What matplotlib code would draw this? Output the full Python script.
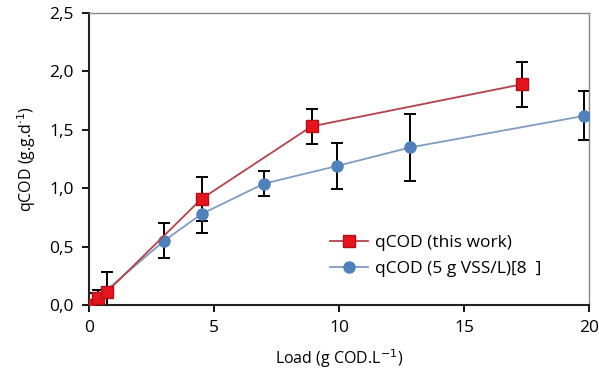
import matplotlib
matplotlib.use("Agg")
import matplotlib.pyplot as plt

plt.rcParams['font.family'] = ['Open Sans', 'DejaVu Sans']

# this work
x_red = [0, 0.35, 0.7, 4.5, 8.9, 17.3]
y_red = [0, 0.06, 0.11, 0.91, 1.53, 1.89]
e_red = [0, 0.07, 0.17, 0.19, 0.15, 0.19]

# 5 g VSS/L [8]
x_blue = [0, 3.0, 4.5, 7.0, 9.9, 12.85, 19.8]
y_blue = [0, 0.55, 0.78, 1.04, 1.19, 1.35, 1.62]
e_blue = [0.1, 0.15, 0.16, 0.11, 0.2, 0.29, 0.21]

xticks = [0, 5, 10, 15, 20]
yticks = [0, 0.5, 1.0, 1.5, 2.0, 2.5]
ylabels = ['0,0', '0,5', '1,0', '1,5', '2,0', '2,5']

fig = plt.figure(figsize=(5.99, 3.73), dpi=100)
ax = fig.add_axes([0.1486, 0.182, 0.835, 0.783])

ax.errorbar(x_red, y_red, yerr=e_red, fmt='none', ecolor='black',
            elinewidth=1.4, capsize=4, capthick=1.4, zorder=2)
ax.errorbar(x_blue, y_blue, yerr=e_blue, fmt='none', ecolor='black',
            elinewidth=1.4, capsize=4, capthick=1.4, zorder=2)
ax.plot(x_blue, y_blue, color='#7f9cc4', lw=1.3, marker='o', ms=8,
        mfc='#4f81bd', mec='#4f81bd', label='qCOD (5 g VSS/L)[8  ]', zorder=3)
ax.plot(x_red, y_red, color='#b5424a', lw=1.3, marker='s', ms=8,
        mfc='#e8141c', mec='#b01018', label='qCOD (this work)', zorder=4)

ax.set_xlim(0, 20)
ax.set_ylim(0, 2.5)
ax.set_xticks(xticks)
ax.set_yticks(yticks)
ax.set_yticklabels(ylabels)
ax.tick_params(labelsize=12.5, direction='out', length=5, width=1.3, pad=6)

for s in ['left', 'bottom']:
    ax.spines[s].set_linewidth(1.5)
    ax.spines[s].set_color('#222222')
for s in ['top', 'right']:
    ax.spines[s].set_linewidth(1.0)
    ax.spines[s].set_color('#888888')

ax.set_xlabel('Load (g COD.L$^{-1}$)', fontsize=11.5, labelpad=8)
ax.set_ylabel('qCOD (g.g.d$^{\\cdot1}$)', fontsize=11.5, labelpad=8)

h, l = ax.get_legend_handles_labels()
ax.legend(h[::-1], l[::-1], loc='center left', bbox_to_anchor=(0.482, 0.168),
          frameon=False, fontsize=12.5, handlelength=2.2, labelspacing=0.6,
          borderaxespad=0, borderpad=0, handletextpad=0.4)

fig.savefig('out.png', dpi=100)
